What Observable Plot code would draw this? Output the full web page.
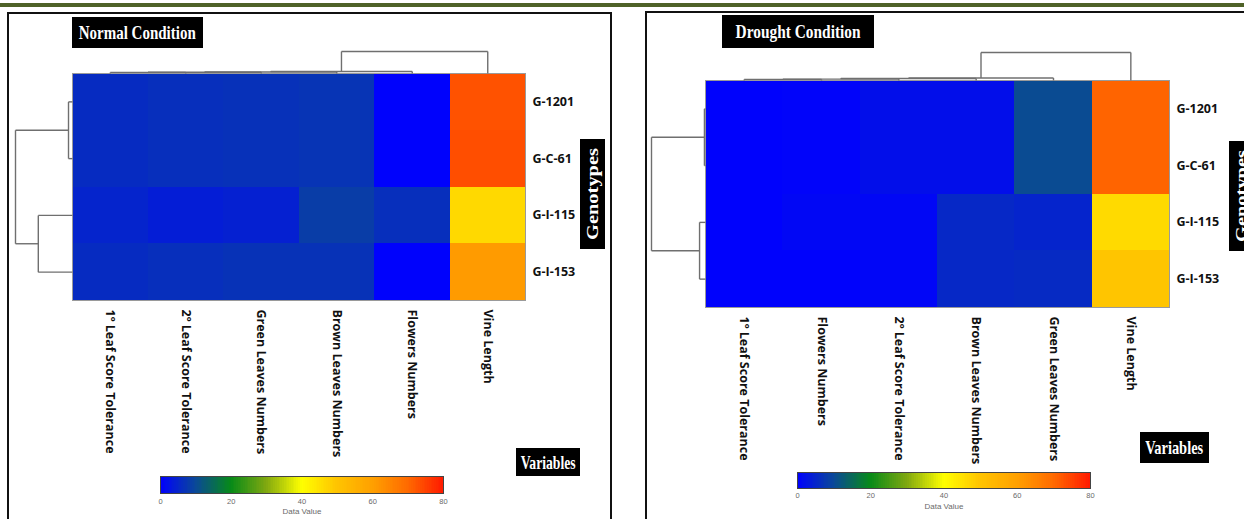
<!DOCTYPE html>
<html>
<head>
<meta charset="utf-8">
<script src="https://cdn.jsdelivr.net/npm/d3@7"></script>
<script src="https://cdn.jsdelivr.net/npm/@observablehq/plot@0.6"></script>
<style>
  html, body { margin: 0; padding: 0; background: #fff; }
  #page { position: relative; width: 1244px; height: 519px; overflow: hidden; background: #fff; }
  .layer { position: absolute; }
  .frame { position: absolute; border: 2px solid #111; box-sizing: border-box; }
  .box { position: absolute; background: #000; color: #fff; display: flex; align-items: center; justify-content: center;
         font-family: "Liberation Serif", "Times New Roman", serif; font-weight: bold; overflow: visible; }
  .box span { display: inline-block; white-space: nowrap; line-height: 1; }
</style>
</head>
<body>
<div id="page"></div>
<script>
// ---------------- data ----------------
const genotypes = ["G-1201", "G-C-61", "G-I-115", "G-I-153"];

const normalTitle = "Normal Condition";
const normalVariables = ["1º Leaf Score Tolerance", "2º Leaf Score Tolerance", "Green Leaves Numbers",
                         "Brown Leaves Numbers", "Flowers Numbers", "Vine Length"];
const normalValues = [
  [6.0, 6.5, 6.8, 7.2, 0.3, 73.0],
  [6.0, 6.5, 6.8, 7.2, 0.3, 73.5],
  [5.0, 4.0, 4.5, 8.5, 6.5, 46.5],
  [6.0, 6.5, 7.0, 7.0, 0.3, 61.0]
];
// merges: [childA, childB, relative linkage height]; leaves 0..n-1, merge k => id n+k
const normalRowMerges = [[0, 1, 7], [2, 3, 60], [4, 5, 100]];
const normalColMerges = [[0, 1, 5], [6, 2, 6], [7, 3, 7], [8, 4, 9], [9, 5, 100]];

const droughtTitle = "Drought Condition";
const droughtVariables = ["1º Leaf Score Tolerance", "Flowers Numbers", "2º Leaf Score Tolerance",
                          "Brown Leaves Numbers", "Green Leaves Numbers", "Vine Length"];
const droughtValues = [
  [0.3, 0.5, 2.0, 2.0, 10.5, 70.8],
  [0.3, 0.5, 2.0, 2.0, 10.5, 70.8],
  [0.3, 1.0, 1.0, 5.5, 5.0, 46.3],
  [0.3, 0.3, 0.8, 5.5, 5.8, 49.8]
];
const droughtRowMerges = [[0, 1, 2], [2, 3, 11], [4, 5, 100]];
const droughtColMerges = [[0, 1, 4], [6, 2, 5], [7, 3, 7], [8, 4, 9], [9, 5, 100]];

const rowAxisTitle = "Genotypes";
const colAxisTitle = "Variables";
const legendTitle = "Data Value";
const legendTicks = [0, 20, 40, 60, 80];

// ---------------- styles / layout ----------------
const colorScale = {
  type: "linear",
  domain: [0, 10, 20, 30, 40, 50, 60, 70, 80],
  range: ["#0000ff", "#0a4898", "#078a18", "#80a810", "#ffff00", "#ffc400", "#ffa000", "#ff6a00", "#ff1a00"],
  interpolate: "rgb"
};

const layouts = [
  { left: 0, width: 620, height: 519,
    hm: {left: 72, top: 73, right: 525, bottom: 300}, rowDepth: 57, colDepth: 22,
    title: {left: 72, top: 17, width: 131, height: 31, fs: 18, tw: 117},
    geno: {left: 580, top: 139, width: 25, height: 110, fs: 16, tw: 92},
    vars: {left: 516, top: 448, width: 64, height: 28, fs: 19, tw: 55},
    legend: {left: 150, top: 471, width: 303, height: 48, mb: 26, tickPad: 5, titleDy: 20},
    frame: {left: 7, top: 12, width: 605, height: 540} },
  { left: 620, width: 624, height: 519,
    hm: {left: 705, top: 80, right: 1169, bottom: 307}, rowDepth: 54, colDepth: 28,
    title: {left: 722, top: 15, width: 152, height: 33, fs: 18, tw: 125},
    geno: {left: 1229, top: 141, width: 25, height: 110, fs: 16, tw: 92},
    vars: {left: 1140, top: 432, width: 69, height: 31, fs: 19, tw: 58},
    legend: {left: 787, top: 467, width: 313, height: 48, mb: 27, tickPad: 4, titleDy: 20},
    frame: {left: 645, top: 11, width: 700, height: 540} }
];

const panels = [
  {title: normalTitle, variables: normalVariables, values: normalValues, rowMerges: normalRowMerges, colMerges: normalColMerges},
  {title: droughtTitle, variables: droughtVariables, values: droughtValues, rowMerges: droughtRowMerges, colMerges: droughtColMerges}
];

// ---------------- helpers ----------------
function dendro(n, merges) {
  const pos = d3.range(n).map(i => i + 0.5);
  const hs = new Array(n).fill(0);
  const segs = [];
  for (const [a, b, h] of merges) {
    segs.push({p1: pos[a], h1: hs[a], p2: pos[a], h2: h});
    segs.push({p1: pos[b], h1: hs[b], p2: pos[b], h2: h});
    segs.push({p1: pos[a], h1: h, p2: pos[b], h2: h});
    pos.push((pos[a] + pos[b]) / 2);
    hs.push(h);
  }
  return segs;
}

const page = document.getElementById("page");

function addDiv(cls, css) {
  const d = document.createElement("div");
  d.className = cls;
  Object.assign(d.style, css);
  page.appendChild(d);
  return d;
}

function addBox(b, text, vertical) {
  const d = addDiv("box", {left: b.left + "px", top: b.top + "px", width: b.width + "px", height: b.height + "px"});
  const s = document.createElement("span");
  s.textContent = text;
  s.style.fontSize = b.fs + "px";
  d.appendChild(s);
  const k = b.tw / s.getBoundingClientRect().width;
  s.style.transform = vertical ? `rotate(-90deg) scaleX(${k})` : `scaleX(${k})`;
}

function heatmap(p, L) {
  const nC = p.variables.length, nR = genotypes.length;
  const cells = [];
  p.values.forEach((row, r) => row.forEach((v, c) => cells.push({r, c, v})));
  const colW = (L.hm.right - L.hm.left) / nC, rowH = (L.hm.bottom - L.hm.top) / nR;
  const maxRow = d3.max(p.rowMerges, m => m[2]), maxCol = d3.max(p.colMerges, m => m[2]);
  const rowK = L.rowDepth / colW / maxRow, colK = L.colDepth / rowH / maxCol;
  const rowSegs = dendro(nR, p.rowMerges), colSegs = dendro(nC, p.colMerges);
  const labelFont = {fontFamily: "'Open Sans', sans-serif", fontWeight: "bold", fontSize: 12.5, fill: "#111"};
  return Plot.plot({
    width: L.width, height: L.height,
    marginLeft: L.hm.left - L.left, marginRight: L.left + L.width - L.hm.right,
    marginTop: L.hm.top, marginBottom: L.height - L.hm.bottom,
    x: {domain: [0, nC], axis: null},
    y: {domain: [nR, 0], axis: null},
    color: colorScale,
    style: {background: "transparent", overflow: "visible"},
    marks: [
      Plot.rect(cells, {x1: d => d.c, x2: d => d.c + 1, y1: d => d.r, y2: d => d.r + 1, fill: d => d.v, shapeRendering: "crispEdges"}),
      Plot.frame({stroke: "#9a9a9a", strokeWidth: 1}),
      Plot.link(rowSegs, {x1: d => -d.h1 * rowK, x2: d => -d.h2 * rowK, y1: d => d.p1, y2: d => d.p2, stroke: "#6f6f6f", strokeWidth: 1.4}),
      Plot.link(colSegs, {x1: d => d.p1, x2: d => d.p2, y1: d => -d.h1 * colK, y2: d => -d.h2 * colK, stroke: "#6f6f6f", strokeWidth: 1.4}),
      Plot.text(genotypes, {x: nC, y: (d, i) => i + 0.5, text: d => d, dx: 7, textAnchor: "start", ...labelFont}),
      Plot.text(p.variables, {x: (d, i) => i + 0.5, y: nR, text: d => d, rotate: 90, textAnchor: "start", dy: 9, ...labelFont})
    ]
  });
}

function legend(L) {
  const lo = legendTicks[0], hi = legendTicks[legendTicks.length - 1];
  const step = 0.5;
  const ramp = d3.range(lo, hi, step);
  return Plot.plot({
    width: L.width, height: L.height,
    marginLeft: 10, marginRight: 10, marginTop: 5, marginBottom: L.mb,
    x: {domain: [lo, hi]},
    color: colorScale,
    style: {background: "transparent", color: "#6a6a6a", fontFamily: "'Liberation Sans', Arial, sans-serif", overflow: "visible"},
    marks: [
      Plot.rect(ramp, {x1: d => d, x2: d => d + step, fill: d => d + step / 2, shapeRendering: "crispEdges"}),
      Plot.frame({stroke: "#444", strokeWidth: 1}),
      Plot.axisX({ticks: legendTicks, tickSize: 0, tickPadding: L.tickPad, fontSize: 7.5, label: null}),
      Plot.text([legendTitle], {frameAnchor: "bottom", dy: L.titleDy, fontSize: 8, fill: "#6a6a6a"})
    ]
  });
}

// ---------------- build ----------------
// top header bar
addDiv("layer", {left: "0px", top: "3px", width: "1244px", height: "4px", background: "#4f6228"});

panels.forEach((p, i) => {
  const L = layouts[i];
  addDiv("frame", {left: L.frame.left + "px", top: L.frame.top + "px", width: L.frame.width + "px", height: L.frame.height + "px"});
  const hw = addDiv("layer", {left: L.left + "px", top: "0px", width: L.width + "px", height: L.height + "px"});
  hw.appendChild(heatmap(p, L));
  const lw = addDiv("layer", {left: L.legend.left + "px", top: L.legend.top + "px", width: L.legend.width + "px", height: L.legend.height + "px"});
  lw.appendChild(legend(L.legend));
  addBox(L.title, p.title, false);
  addBox(L.geno, rowAxisTitle, true);
  addBox(L.vars, colAxisTitle, false);
});
</script>
</body>
</html>
